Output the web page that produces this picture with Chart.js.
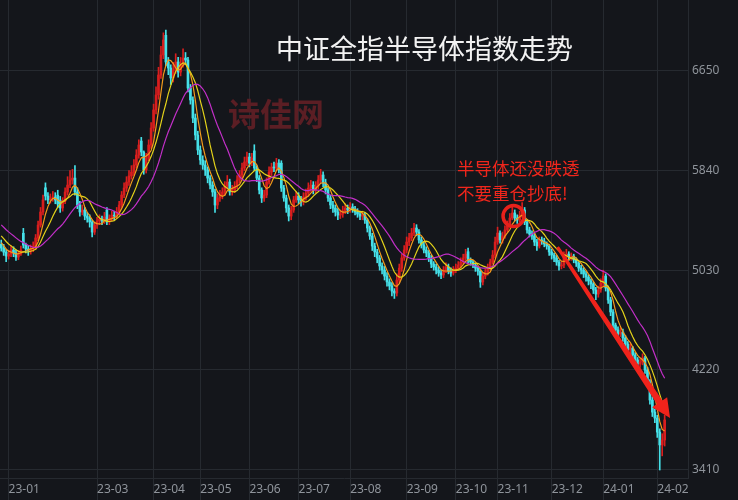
<!DOCTYPE html>
<html><head><meta charset="utf-8">
<script src="https://cdn.jsdelivr.net/npm/chart.js@4.4.1/dist/chart.umd.min.js"></script>
<style>
html,body{margin:0;padding:0;background:#14161b;}
#wrap{position:relative;width:738px;height:500px;overflow:hidden;background:#14161b;}
canvas{position:absolute;left:0;top:0;}
.t{position:absolute;white-space:nowrap;font-family:"Noto Sans CJK SC","Noto Sans",sans-serif;line-height:1;}
#title{left:276px;top:34px;font-size:27px;color:#f2f2f2;}
#wm{left:228px;top:96px;font-size:32px;font-weight:bold;color:#5b1e24;}
#note{left:457px;top:155px;font-size:17.5px;color:#f0261c;line-height:25px;}
</style></head>
<body>
<div id="wrap">
<canvas id="c" width="738" height="500"></canvas>
<div class="t" id="wm">诗佳网</div>
<div class="t" id="title">中证全指半导体指数走势</div>
<div class="t" id="note">半导体还没跌透<br>不要重仓抄底!</div>
</div>
<script>
// ---- data (daily candles, Dec 2022 - Feb 2024) ----
const warmupClose = [5560,5540,5520,5510,5490,5470,5480,5450,5430,5420,5400,5380,5360,5350,5330,5300,5280,5250,5230];

const close = [
5210,5177,5145,5161,5194,5170,5137,5161,5194,5234,
5202,5186,5202,5218,5292,5397,5503,5601,5633,5601,
5609,5625,5601,5568,5536,5592,5666,5722,5763,5779,
5666,5560,5503,5519,5470,5454,5422,5340,5397,5430,
5446,5430,5462,5422,5454,5478,5470,5503,5560,5641,
5698,5747,5796,5828,5885,5966,6048,5991,5845,5942,
6048,6186,6333,6455,6617,6780,6902,6723,6674,6593,
6658,6723,6641,6706,6755,6739,6511,6414,6267,6129,
6007,5926,5885,5845,5779,5722,5666,5560,5617,5641,
5666,5714,5747,5666,5682,5714,5763,5804,5861,5910,
5950,5901,5942,5861,5779,5682,5617,5641,5747,5828,
5869,5861,5901,5845,5698,5617,5536,5470,5519,5601,
5633,5601,5584,5625,5657,5698,5722,5682,5714,5763,
5804,5739,5682,5617,5560,5535,5503,5478,5486,5511,
5535,5519,5544,5527,5503,5486,5470,5478,5438,5373,
5308,5226,5178,5129,5064,5031,4982,4934,4901,4860,
4844,4950,5047,5129,5194,5259,5292,5332,5373,5340,
5276,5235,5194,5170,5129,5080,5056,5031,5007,4991,
5031,5056,5023,5007,5031,5047,5072,5096,5129,5161,
5113,5096,5072,5047,5023,4934,4982,5015,5047,5096,
5153,5259,5332,5276,5308,5357,5397,5454,5495,5454,
5438,5478,5519,5422,5357,5324,5308,5259,5227,5276,
5267,5243,5226,5178,5153,5129,5096,5064,5072,5145,
5161,5137,5145,5113,5088,5047,5031,4999,4974,4942,
4918,4869,4836,4869,4926,4982,4885,4788,4690,4584,
4544,4511,4527,4478,4429,4381,4397,4340,4300,4267,
4283,4316,4218,4121,3974,3876,3827,3713,3609,3649,
3812];

const open = [
5240,5210,5177,5145,5161,5194,5170,5137,5161,5330,
5234,5202,5186,5202,5218,5292,5397,5503,5700,5633,
5601,5609,5625,5640,5600,5536,5592,5666,5722,5763,
5779,5666,5560,5503,5519,5470,5454,5422,5340,5397,
5430,5446,5430,5520,5422,5454,5478,5470,5503,5560,
5641,5698,5747,5796,5828,5885,5966,6080,5991,5845,
5942,6048,6186,6333,6455,6617,6780,6940,6723,6674,
6593,6658,6723,6641,6706,6755,6739,6511,6414,6267,
6129,6007,5926,5885,5845,5779,5722,5666,5560,5617,
5641,5666,5714,5747,5666,5682,5714,5763,5804,5861,
5910,5950,5901,6000,5861,5779,5682,5617,5641,5747,
5828,5869,5861,5901,5900,5698,5617,5536,5470,5519,
5601,5633,5601,5584,5625,5657,5698,5722,5682,5714,
5763,5804,5739,5682,5617,5560,5535,5503,5478,5486,
5511,5535,5519,5544,5527,5503,5486,5470,5478,5438,
5373,5308,5226,5178,5129,5064,5031,4982,4934,4901,
4860,4844,4950,5047,5129,5194,5259,5292,5332,5373,
5340,5276,5235,5194,5170,5129,5080,5056,5031,5007,
4991,5031,5056,5023,5007,5031,5047,5072,5096,5129,
5180,5113,5096,5072,5047,5023,4934,4982,5015,5047,
5096,5153,5259,5332,5276,5308,5357,5397,5454,5495,
5454,5438,5478,5519,5422,5357,5324,5308,5259,5227,
5276,5267,5243,5226,5178,5153,5129,5096,5064,5072,
5145,5161,5137,5145,5113,5088,5047,5031,4999,4974,
4942,4918,4869,4836,4869,4926,4982,4885,4788,4690,
4584,4544,4511,4527,4478,4429,4381,4397,4340,4300,
4267,4283,4316,4218,4121,3974,3876,3827,3713,3609,
3649];

const high = [
5275,5240,5200,5190,5230,5220,5195,5190,5225,5370,
5250,5230,5235,5260,5320,5430,5540,5640,5740,5660,
5650,5670,5660,5680,5630,5620,5700,5790,5840,5850,
5880,5700,5590,5560,5540,5500,5480,5440,5420,5460,
5480,5470,5500,5540,5480,5510,5510,5540,5590,5670,
5740,5790,5840,5880,5930,6010,6090,6110,6000,5980,
6090,6230,6380,6520,6680,6850,6960,6983,6760,6700,
6720,6790,6760,6760,6830,6800,6760,6540,6440,6300,
6160,6040,5960,5920,5870,5800,5750,5690,5650,5680,
5700,5750,5800,5770,5720,5750,5800,5840,5900,5950,
5990,5980,5980,6050,5880,5800,5700,5680,5780,5870,
5900,5910,5940,5930,5920,5720,5640,5560,5550,5630,
5670,5660,5630,5660,5690,5740,5760,5750,5750,5800,
5850,5830,5770,5700,5640,5590,5560,5530,5520,5550,
5570,5560,5580,5570,5550,5530,5510,5510,5500,5450,
5390,5330,5250,5200,5150,5090,5060,5010,4960,4930,
4880,5000,5080,5160,5230,5300,5330,5370,5410,5400,
5360,5300,5260,5220,5190,5150,5100,5080,5060,5030,
5060,5090,5080,5050,5060,5080,5100,5130,5160,5200,
5210,5130,5110,5090,5060,5040,5010,5040,5080,5120,
5190,5300,5380,5350,5340,5390,5430,5490,5560,5520,
5480,5510,5580,5540,5440,5380,5350,5330,5280,5300,
5300,5290,5260,5240,5200,5170,5150,5110,5100,5180,
5200,5180,5170,5160,5130,5100,5070,5050,5020,4990,
4960,4930,4890,4900,4960,5030,5000,4900,4810,4710,
4600,4570,4560,4550,4500,4450,4430,4410,4360,4320,
4310,4350,4330,4240,4140,4000,3900,3850,3740,3700,
3850];

const low = [
5185,5150,5100,5120,5140,5140,5110,5115,5150,5210,
5170,5150,5160,5180,5200,5270,5380,5480,5600,5570,
5575,5590,5570,5540,5500,5510,5570,5640,5700,5730,
5640,5530,5470,5480,5440,5420,5380,5300,5320,5370,
5400,5400,5410,5400,5400,5430,5440,5450,5480,5540,
5620,5670,5720,5770,5800,5860,5940,5960,5810,5820,
5920,6020,6160,6300,6420,6590,6750,6690,6620,6540,
6560,6630,6600,6610,6680,6700,6480,6380,6230,6090,
5970,5890,5850,5800,5740,5690,5630,5500,5530,5590,
5610,5640,5690,5640,5640,5660,5690,5740,5780,5840,
5880,5870,5880,5840,5750,5650,5580,5590,5620,5730,
5800,5830,5840,5820,5670,5590,5500,5430,5440,5500,
5580,5570,5550,5560,5600,5630,5670,5650,5660,5690,
5740,5710,5650,5590,5530,5500,5470,5440,5450,5460,
5490,5490,5500,5500,5480,5460,5440,5440,5410,5340,
5280,5190,5140,5090,5030,5000,4950,4900,4870,4820,
4800,4820,4930,5020,5110,5170,5230,5270,5310,5310,
5250,5210,5170,5140,5100,5050,5030,5000,4980,4960,
4970,5010,5000,4980,4990,5010,5030,5050,5080,5110,
5090,5070,5050,5020,4990,4890,4910,4960,4990,5030,
5080,5130,5240,5250,5250,5290,5340,5380,5440,5430,
5410,5420,5460,5400,5330,5300,5280,5230,5190,5210,
5240,5220,5200,5150,5120,5100,5070,5030,5040,5050,
5120,5110,5110,5090,5060,5020,5000,4970,4940,4910,
4880,4840,4790,4810,4850,4900,4860,4760,4660,4560,
4510,4480,4490,4450,4400,4350,4350,4310,4270,4230,
4240,4260,4190,4090,3940,3840,3790,3670,3405,3520,
3600];

const slotCount = 280;                  // trading-day slots across the plot width
const monthStartIndex = [3, 39, 62, 81, 101, 121, 142, 165, 185, 202, 224, 245, 267];
const monthLabels = ['23-01','23-03','23-04','23-05','23-06','23-07','23-08','23-09','23-10','23-11','23-12','24-01','24-02'];
const yTicks = [3410, 4220, 5030, 5840, 6650];
const maPeriods = [5, 10, 20];

// annotation anchors (data coordinates)
const circleMark = {index: 208.5, value: 5470};
const arrowMark = {from: {index: 226.4, value: 5218}, to: {index: 272.2, value: 3827}};

// ---- styles ----
const UP = '#d81e1e', DOWN = '#45e0e8';
const GRID = '#262a30', TXT = '#8f949b';
const maColors = ['#f39b1c', '#e3d21a', '#c22fc8'];

function movingAverage(series, n, skip) {
  const out = [];
  for (let i = skip; i < series.length; i++) {
    if (i - n + 1 < 0) { out.push(null); continue; }
    let s = 0;
    for (let k = i - n + 1; k <= i; k++) s += series[k];
    out.push(s / n);
  }
  return out;
}
const allClose = warmupClose.concat(close);
const maData = maPeriods.map(n => movingAverage(allClose, n, warmupClose.length));

const labels = Array.from({length: slotCount}, (_, i) => i);
const monthAt = new Map(monthStartIndex.map((idx, k) => [idx, monthLabels[k]]));
const candleColor = close.map((c, i) => c >= open[i] ? UP : DOWN);

const markPlugin = {
  id: 'marks',
  afterDatasetsDraw(chart) {
    const {ctx, scales: {x, y}} = chart;
    ctx.save();
    ctx.strokeStyle = '#e8211b'; ctx.lineWidth = 3.5;
    ctx.beginPath();
    ctx.arc(x.getPixelForValue(circleMark.index), y.getPixelForValue(circleMark.value), 10.5, 0, Math.PI * 2);
    ctx.stroke();
    const x1 = x.getPixelForValue(arrowMark.from.index), y1 = y.getPixelForValue(arrowMark.from.value);
    const x2 = x.getPixelForValue(arrowMark.to.index), y2 = y.getPixelForValue(arrowMark.to.value);
    const ang = Math.atan2(y2 - y1, x2 - x1);
    const headLen = 19, headW = 9, w0 = 1.6, w1 = 3.3;
    const bx = x2 - headLen * Math.cos(ang), by = y2 - headLen * Math.sin(ang);
    const nx = -Math.sin(ang), ny = Math.cos(ang);
    ctx.fillStyle = '#f0231b';
    ctx.beginPath();
    ctx.moveTo(x1 + nx * w0, y1 + ny * w0);
    ctx.lineTo(bx + nx * w1, by + ny * w1);
    ctx.lineTo(bx + nx * headW, by + ny * headW);
    ctx.lineTo(x2, y2);
    ctx.lineTo(bx - nx * headW, by - ny * headW);
    ctx.lineTo(bx - nx * w1, by - ny * w1);
    ctx.lineTo(x1 - nx * w0, y1 - ny * w0);
    ctx.closePath();
    ctx.fill();
    ctx.restore();
  }
};

const datasets = [
  {type: 'bar', data: low.map((l, i) => [l, high[i]]), backgroundColor: candleColor, barThickness: 1, grouped: false, order: 3},
  {type: 'bar', data: open.map((o, i) => [o, close[i]]), backgroundColor: candleColor, barThickness: 2, grouped: false, order: 2},
];
maData.forEach((d, k) => datasets.push({
  type: 'line', data: d, borderColor: maColors[k], borderWidth: 1.2, pointRadius: 0, tension: 0, order: 1 - k * 0.1, spanGaps: true
}));

new Chart(document.getElementById('c'), {
  type: 'bar',
  data: {labels, datasets},
  options: {
    responsive: false, devicePixelRatio: 1, animation: false,
    layout: {padding: 0},
    plugins: {legend: {display: false}, tooltip: {enabled: false}},
    scales: {
      x: {
        type: 'category', offset: true,
        grid: {offset: false, color: c => monthAt.has(c.index) ? GRID : 'rgba(0,0,0,0)', drawTicks: true, tickLength: 22},
        border: {display: true, color: GRID},
        ticks: {autoSkip: false, maxRotation: 0, minRotation: 0, align: 'start', padding: -18, color: TXT,
                font: {family: 'Noto Sans', size: 12}, callback: (v, i) => monthAt.get(i) ?? ''},
        afterFit: s => { s.height = 22; s.paddingLeft = 0; s.paddingRight = 0; }
      },
      y: {
        position: 'right', min: 3340, max: 7227,
        afterBuildTicks: s => { s.ticks = yTicks.map(v => ({value: v})); },
        grid: {color: GRID, drawTicks: false},
        border: {display: true, color: GRID},
        ticks: {padding: 4, color: TXT, font: {family: 'Noto Sans', size: 12}, callback: v => String(v)},
        afterFit: s => { s.width = 50; s.paddingTop = 0; s.paddingBottom = 0; }
      }
    }
  },
  plugins: [markPlugin]
});
</script>
</body></html>
